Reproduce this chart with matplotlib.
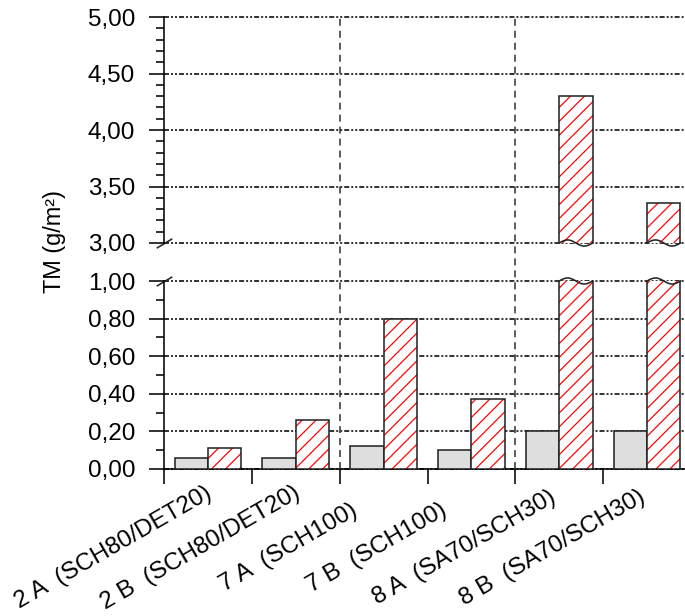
import numpy as np
import matplotlib
matplotlib.use('Agg')
import matplotlib.pyplot as plt
from matplotlib.lines import Line2D
from matplotlib.transforms import blended_transform_factory, ScaledTranslation

# data
categories = ['2 A  (SCH80/DET20)', '2 B  (SCH80/DET20)', '7 A  (SCH100)',
              '7 B  (SCH100)', '8 A  (SA70/SCH30)', '8 B  (SA70/SCH30)']
grey_vals = [0.06, 0.06, 0.12, 0.10, 0.20, 0.20]
red_vals = [0.11, 0.26, 0.80, 0.37, 4.30, 3.35]
separators = [2, 4]

plt.rcParams['font.family'] = ['Liberation Sans', 'DejaVu Sans']
plt.rcParams['font.size'] = 13.5
plt.rcParams['hatch.linewidth'] = 0.7
plt.rcParams['lines.scale_dashes'] = False

DPI = 125
fig = plt.figure(figsize=(685 / DPI, 616 / DPI), dpi=DPI)

W, H = 685, 616
left, right = 164 / W, 691 / W
ax_top = fig.add_axes([left, 1 - 243 / H, right - left, (243 - 17) / H])
ax_bot = fig.add_axes([left, 1 - 469 / H, right - left, (469 - 281) / H])

x = np.arange(len(categories)) + 0.5
bw = 0.38
grid_ls = (0, (2.9, 1.15, 1.15, 1.15, 1.15, 1.15))
edge = '#222222'
lw = 0.9

top_major = np.arange(3, 5.01, 0.5)
bot_major = np.arange(0, 1.01, 0.2)

for ax in (ax_top, ax_bot):
    ax.bar(x - bw / 2, grey_vals, bw, color='#dedede', edgecolor=edge, linewidth=lw, zorder=3)
    ax.bar(x + bw / 2, red_vals, bw, color='white', edgecolor='red', hatch='///', linewidth=0, zorder=3)
    ax.bar(x + bw / 2, red_vals, bw, color='none', edgecolor=edge, linewidth=lw, zorder=4)
    ax.set_xlim(0, len(categories))
    for s in ('top', 'right'):
        ax.spines[s].set_visible(False)
    ax.spines['left'].set_linewidth(lw)
    ax.spines['bottom'].set_linewidth(lw)

ax_top.set_ylim(3, 5)
ax_top.set_yticks(top_major)
ax_top.set_yticks(np.arange(3, 5.01, 0.1), minor=True)
ax_top.set_yticklabels([f'{v:.2f}'.replace('.', ',') for v in top_major], fontsize=14)
ax_top.spines['bottom'].set_visible(False)
ax_top.set_xticks([])

ax_bot.set_ylim(0, 1)
ax_bot.set_yticks(bot_major)
ax_bot.set_yticks(np.arange(0, 1.01, 0.1), minor=True)
ax_bot.set_yticklabels([f'{v:.2f}'.replace('.', ',') for v in bot_major], fontsize=14)
ax_bot.set_xticks(np.arange(len(categories) + 1))
ax_bot.set_xticklabels([])

for ax in (ax_top, ax_bot):
    ax.tick_params(axis='y', which='major', direction='out', length=8.6, width=lw,
                   pad=8, labelsize=14)
    ax.tick_params(axis='y', which='minor', direction='out', length=4.6, width=lw)
ax_bot.tick_params(axis='x', which='major', direction='out', length=8.6, width=lw)

# dotted grid at the major ticks, not clipped at the panel edges
for ax, ticks in ((ax_top, top_major), (ax_bot, bot_major)):
    for yv in ticks:
        ax.axhline(yv, color='black', linestyle=grid_ls, linewidth=0.9, zorder=1,
                   clip_on=False)

# category labels, rotated about their centre
lab_tr = blended_transform_factory(ax_bot.transData, ax_bot.transAxes) + \
    ScaledTranslation(-95 / DPI, -79 / DPI, fig.dpi_scale_trans)
for xi, lab in zip(x, categories):
    ax_bot.text(xi, 0, lab, transform=lab_tr, rotation=30, ha='center', va='center',
                rotation_mode='anchor', fontsize=14)

# wavy break edges on the bars cut by the axis break
t = np.linspace(0, 1, 40)
for xi, v in zip(x, red_vals):
    if v > 1:
        xs = xi + bw * t
        ax_bot.plot(xs, 1 + 0.016 * np.sin(2 * np.pi * t), color=edge, lw=lw,
                    clip_on=False, zorder=5)
        ax_top.plot(xs, 3 + 0.027 * np.sin(2 * np.pi * t), color=edge, lw=lw,
                    clip_on=False, zorder=5)

# diagonal break marks on the y axis
brk = dict(marker=[(-1, -0.6), (1, 0.6)], markersize=9, linestyle='none',
           color=edge, mec=edge, mew=lw, clip_on=False)
ax_top.plot([0], [0], transform=ax_top.transAxes, **brk)
ax_bot.plot([0], [1], transform=ax_bot.transAxes, **brk)

# dashed group separators through both panels
tr = blended_transform_factory(ax_bot.transData, fig.transFigure)
y0 = ax_bot.get_position().y0
y1 = ax_top.get_position().y1
for s in separators:
    fig.add_artist(Line2D([s, s], [y0, y1], transform=tr, color='#333333',
                          linewidth=0.9, linestyle=(0, (4.0, 2.9))))

fig.text(55 / W, 1 - 242 / H, 'TM (g/m²)', rotation=90, ha='center', va='center')

fig.savefig('out.png', dpi=DPI)
